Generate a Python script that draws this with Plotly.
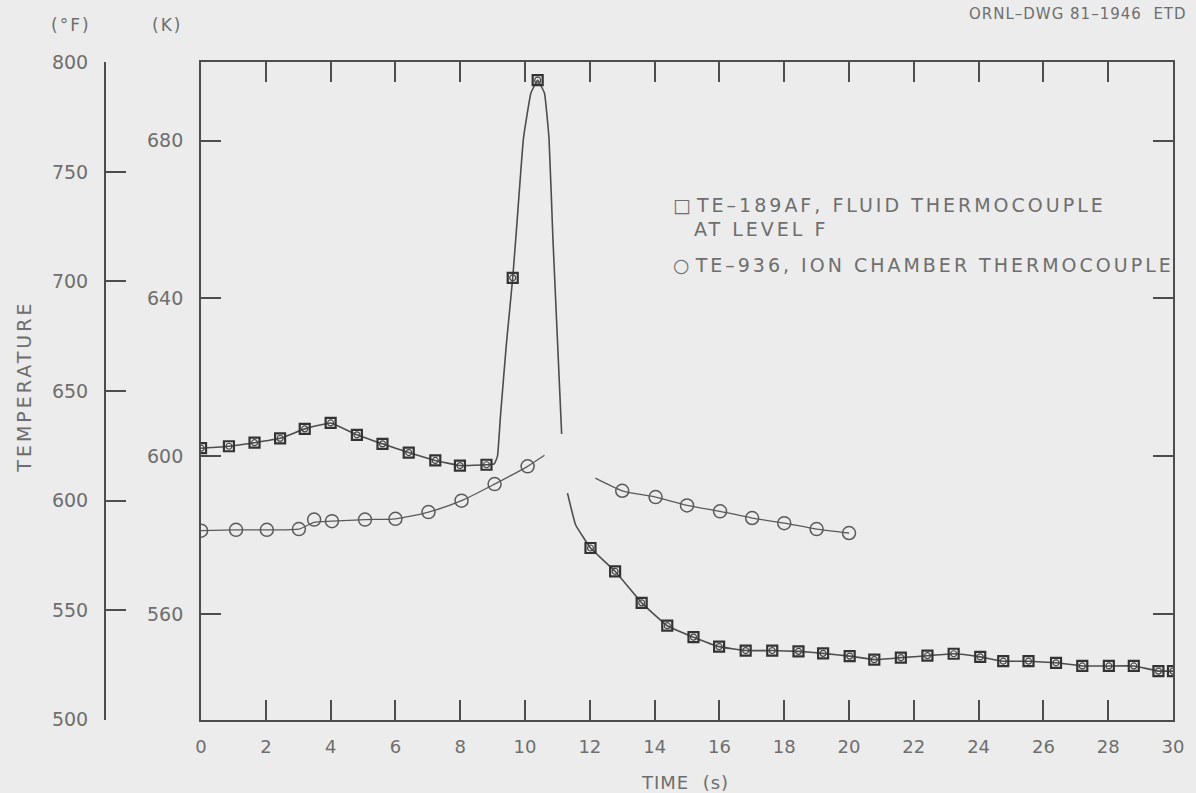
import plotly.graph_objects as go

# ---------------- data (time in s, temperature in K) ----------------
fluid_marker_t = [0.0, 0.86, 1.65, 2.44, 3.2, 4.0, 4.81, 5.6, 6.41, 7.23, 7.99, 8.81,
                  9.62, 10.39,
                  12.02, 12.78, 13.6, 14.39, 15.2, 15.99, 16.81, 17.63, 18.44, 19.2,
                  20.02, 20.78, 21.6, 22.42, 23.23, 24.05, 24.76, 25.54, 26.39, 27.2,
                  28.02, 28.79, 29.55, 30.0]
fluid_marker_k = [602.0, 602.5, 603.4, 604.5, 606.9, 608.4, 605.4, 603.1, 600.9, 598.9, 597.6, 597.8,
                  645.2, 695.3,
                  576.7, 570.8, 562.8, 557.0, 554.1, 551.7, 550.7, 550.7, 550.5, 550.0,
                  549.3, 548.4, 548.9, 549.4, 549.9, 549.1, 548.0, 548.0, 547.6, 546.8,
                  546.8, 546.8, 545.5, 545.5]

# continuous curve of the fluid thermocouple (None = break in the drawn curve)
fluid_line_t = [0.0, 0.86, 1.65, 2.44, 3.2, 4.0, 4.81, 5.6, 6.41, 7.23, 7.99, 8.81, 9.05, 9.15,
                9.24, 9.42, 9.62, 9.75, 9.95, 10.18, 10.39, 10.6, 10.74, 10.86, 11.13, None,
                11.31, 11.56, 12.02, 12.78, 13.6, 14.39, 15.2, 15.99, 16.81, 17.63, 18.44, 19.2,
                20.02, 20.78, 21.6, 22.42, 23.23, 24.05, 24.76, 25.54, 26.39, 27.2,
                28.02, 28.79, 29.55, 30.0]
fluid_line_k = [602.0, 602.5, 603.4, 604.5, 606.9, 608.4, 605.4, 603.1, 600.9, 598.9, 597.6, 597.8, 598.0, 600.0,
                610.0, 628.0, 645.2, 659.0, 680.5, 692.0, 695.3, 692.0, 680.5, 655.2, 605.6, None,
                590.6, 582.6, 576.7, 570.8, 562.8, 557.0, 554.1, 551.7, 550.7, 550.7, 550.5, 550.0,
                549.3, 548.4, 548.9, 549.4, 549.9, 549.1, 548.0, 548.0, 547.6, 546.8,
                546.8, 546.8, 545.5, 545.5]

ion_marker_t = [0.0, 1.08, 2.03, 3.02, 3.49, 4.04, 5.06, 6.0, 7.02, 8.04, 9.06, 10.08,
                13.0, 14.03, 15.0, 16.02, 17.01, 18.0, 19.0, 20.0]
ion_marker_k = [581.1, 581.3, 581.3, 581.5, 583.9, 583.5, 583.9, 584.1, 585.8, 588.7, 592.9, 597.4,
                591.2, 589.6, 587.5, 586.0, 584.3, 583.0, 581.5, 580.5]

ion_line_t = [0.0, 1.08, 2.03, 3.02, 3.49, 4.04, 5.06, 6.0, 7.02, 8.04, 9.06, 10.08, 10.6, None,
              12.17, 13.0, 14.03, 15.0, 16.02, 17.01, 18.0, 19.0, 20.0]
ion_line_k = [581.1, 581.3, 581.3, 581.5, 583.2, 583.5, 583.9, 584.1, 585.8, 588.7, 592.9, 597.4, 600.2, None,
              594.4, 591.2, 589.6, 587.5, 586.0, 584.3, 583.0, 581.5, 580.5]

k_ticks = [560, 600, 640, 680]
f_ticks = [500, 550, 600, 650, 700, 750, 800]
x_ticks = list(range(0, 31, 2))

k_range = [533.1, 699.9]


def k_to_f(k):
    return (k - 273.15) * 9 / 5 + 32


f_range = [k_to_f(k_range[0]), k_to_f(k_range[1])]

# ---------------- styling / layout helpers ----------------
W, H = 1196, 793
ML, MR, MT, MB = 100, 13, 62, 73
PW, PH = W - ML - MR, H - MT - MB


def px(x):
    return (x - ML) / PW


def py(y):
    return (H - MB - y) / PH


def spaced(s, sp):
    return '<span style="letter-spacing:%gpx">%s</span>' % (sp, s)


BG = "#ececec"
INK = "#4d4d4d"
TXT = "#6e6e6e"
FONT = "DejaVu Sans"

fig = go.Figure()

fig.add_trace(go.Scatter(x=fluid_line_t, y=fluid_line_k, mode="lines",
                         line=dict(color=INK, width=1.6, shape="spline", smoothing=0.3),
                         connectgaps=False, showlegend=False, hoverinfo="skip"))
fig.add_trace(go.Scatter(x=ion_line_t, y=ion_line_k, mode="lines",
                         line=dict(color="#5a5a5a", width=1.3, shape="spline", smoothing=0.6),
                         connectgaps=False, showlegend=False, hoverinfo="skip"))
fig.add_trace(go.Scatter(x=fluid_marker_t, y=fluid_marker_k, mode="markers",
                         marker=dict(symbol="square-open", size=10, color="#333333",
                                     line=dict(width=2.2, color="#333333")),
                         name="TE-189AF", showlegend=False))
fig.add_trace(go.Scatter(x=fluid_marker_t, y=fluid_marker_k, mode="markers",
                         marker=dict(symbol="circle-open", size=6, color="#444444",
                                     line=dict(width=1.2, color="#444444")),
                         showlegend=False, hoverinfo="skip"))
fig.add_trace(go.Scatter(x=ion_marker_t, y=ion_marker_k, mode="markers",
                         marker=dict(symbol="circle-open", size=13, color="#5a5a5a",
                                     line=dict(width=1.5, color="#5a5a5a")),
                         name="TE-936", showlegend=False))
# invisible trace on the °F axis so it is drawn
fig.add_trace(go.Scatter(x=[None], y=[None], yaxis="y2", showlegend=False, hoverinfo="skip"))

axis_common = dict(showgrid=False, zeroline=False, showline=True, linecolor=INK, linewidth=2,
                   ticks="inside", ticklen=20, tickwidth=2, tickcolor=INK)

fig.update_layout(
    width=W, height=H,
    margin=dict(l=ML, r=MR, t=MT, b=MB),
    paper_bgcolor=BG, plot_bgcolor=BG,
    font=dict(family=FONT, color=TXT, size=18),
    xaxis=dict(domain=[px(202), 1.0], range=[0, 30], tickvals=x_ticks, mirror="ticks",
               tickfont=dict(size=18, color=TXT), ticklabelstandoff=9, **axis_common),
    yaxis=dict(range=k_range, tickvals=k_ticks, mirror="ticks", anchor="x",
               tickfont=dict(size=19, color=TXT), ticklabelstandoff=12, **axis_common),
    yaxis2=dict(range=f_range, tickvals=f_ticks, overlaying="y", anchor="free",
                position=px(105), side="left",
                tickfont=dict(size=19, color=TXT), ticklabelstandoff=12, **axis_common),
)

ann = [
    dict(text=spaced("(°F)", 2), x=px(71), y=py(25), xanchor="center", yanchor="middle", font=dict(size=17)),
    dict(text=spaced("(K)", 2), x=px(168), y=py(25), xanchor="center", yanchor="middle", font=dict(size=17)),
    dict(text=spaced("ORNL–DWG 81–1946  ETD", 1), x=px(1199), y=py(14), xanchor="right", yanchor="middle",
         font=dict(size=15)),
    dict(text=spaced("TEMPERATURE", 3), x=px(23), y=py(387), textangle=-90, xanchor="center",
         yanchor="middle", font=dict(size=19)),
    dict(text=spaced("TIME  (s)", 1), x=px(690), y=py(782), xanchor="center", yanchor="middle",
         font=dict(size=18)),
    dict(text="□ " + spaced("TE–189AF, FLUID THERMOCOUPLE", 3), x=px(676), y=py(205), xanchor="left",
         yanchor="middle", font=dict(size=19)),
    dict(text=spaced("AT LEVEL F", 3), x=px(698), y=py(229), xanchor="left", yanchor="middle",
         font=dict(size=19)),
    dict(text="○ " + spaced("TE–936, ION CHAMBER THERMOCOUPLE", 3), x=px(676), y=py(265), xanchor="left",
         yanchor="middle", font=dict(size=19)),
]
for a in ann:
    a.update(xref="paper", yref="paper", showarrow=False)
    a["font"] = dict(family=FONT, color=TXT, **a["font"])
fig.update_layout(annotations=ann)

fig.write_html("out.html")
